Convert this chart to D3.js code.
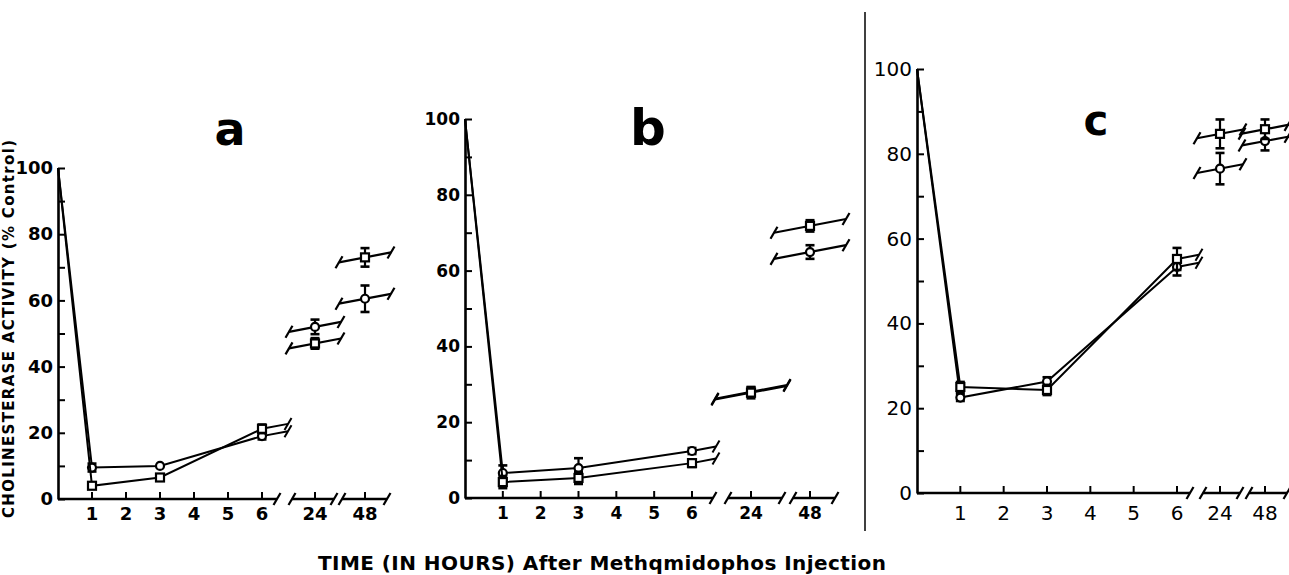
<!DOCTYPE html>
<html>
<head>
<meta charset="utf-8">
<script src="https://cdn.jsdelivr.net/npm/d3@7"></script>
<style>
  html, body { margin: 0; padding: 0; background: #fff; }
  svg { display: block; font-family: "DejaVu Sans", "Liberation Sans", sans-serif; }
</style>
</head>
<body>
<svg id="chart" width="1289" height="575"></svg>
<script>
// time points (hours): main part of the axis, then the two broken-off points
const mainHours = [0, 1, 3, 6];
const lateHours = [24, 48];
const hourTicks = [1, 2, 3, 4, 5, 6, 24, 48];
const yMinorTicks = [0, 10, 20, 30, 40, 50, 60, 70, 80, 90, 100];
const yLabelTicks = [0, 20, 40, 60, 80, 100];

// panel a  (values at 0, 1, 3, 6, 24, 48 h)
const aCircle    = [100, 9.5, 10.0, 19.0, 52.0, 60.5];
const aCircleErr = [0, 1.2, 0, 1.0, 2.2, 4.0];
const aSquare    = [100, 4.0, 6.5, 21.2, 47.0, 73.0];
const aSquareErr = [0, 0.8, 0.8, 1.3, 1.6, 2.8];

// panel b
const bCircle    = [100, 6.6, 7.9, 12.4, 28.0, 64.9];
const bCircleErr = [0, 2.0, 2.6, 0.8, 1.2, 1.8];
const bSquare    = [100, 4.2, 5.3, 9.2, 27.8, 71.8];
const bSquareErr = [0, 1.6, 1.6, 1.0, 1.5, 1.5];

// panel c
const cCircle    = [100, 22.5, 26.3, 53.3, 76.5, 83.0];
const cCircleErr = [0, 0.8, 1.0, 2.0, 3.7, 2.2];
const cSquare    = [100, 25.0, 24.3, 55.2, 84.7, 85.8];
const cSquareErr = [0, 1.2, 1.2, 2.6, 3.4, 2.3];

const panelNames = ["a", "b", "c"];

// layout of each panel on the page
const layout = {
  a: { xr: [58, 262, 315, 365], yr: [499, 168], mainEnd: 277, seg24: [292, 334], seg48: [342, 387],
       stub: 26, stub6: 26, labelSize: 18, labelWeight: "bold", xLabelDy: 21,
       letter: [230, 145], letterSize: 46,
       circle: aCircle, circleErr: aCircleErr, square: aSquare, squareErr: aSquareErr },
  b: { xr: [465, 692, 751, 810], yr: [498, 119], mainEnd: 713, seg24: [728, 782], seg48: [793, 835],
       stub: 36, stub6: 24, labelSize: 17, labelWeight: "bold", xLabelDy: 21,
       letter: [648, 145], letterSize: 50,
       circle: bCircle, circleErr: bCircleErr, square: bSquare, squareErr: bSquareErr },
  c: { xr: [917, 1177, 1220, 1265], yr: [493, 69], mainEnd: 1190, seg24: [1203, 1240], seg48: [1249, 1287],
       stub: 23, stub6: 22, labelSize: 20, labelWeight: "normal", xLabelDy: 27,
       letter: [1096, 135], letterSize: 42,
       circle: cCircle, circleErr: cCircleErr, square: cSquare, squareErr: cSquareErr }
};

const allHours = mainHours.concat(lateHours);
const slope = 0.19;   // small upward tilt of the broken line pieces

const svg = d3.select("#chart");

function slash(g, x, y, w) {
  g.append("line")
    .attr("x1", x - 3.5).attr("y1", y + 6)
    .attr("x2", x + 3.5).attr("y2", y - 6)
    .attr("stroke", "#000").attr("stroke-width", w);
}

panelNames.forEach(name => {
  const p = layout[name];
  const g = svg.append("g");

  const x = d3.scaleLinear().domain([0, 6, 24, 48]).range(p.xr);
  const y = d3.scaleLinear().domain([0, 100]).range(p.yr);

  // y axis: ticks pointing inward, labels every 20
  const yAxis = d3.axisLeft(y)
    .tickValues(yMinorTicks)
    .tickSizeInner(-7)
    .tickSizeOuter(0)
    .tickPadding(5)
    .tickFormat(d => yLabelTicks.includes(d) ? d : "");

  const ya = g.append("g")
    .attr("transform", `translate(${x(0)},0)`)
    .call(yAxis);
  ya.select(".domain").attr("stroke-width", 2.6);
  ya.selectAll(".tick line").attr("stroke-width", 2);
  ya.selectAll("text")
    .attr("font-size", p.labelSize)
    .attr("font-weight", p.labelWeight)
    .attr("font-family", "DejaVu Sans, sans-serif")
    .attr("fill", "#000");

  // x axis in three pieces with break marks
  const y0 = y(0);
  const pieces = [[x(0), p.mainEnd], p.seg24, p.seg48];
  pieces.forEach((s, i) => {
    g.append("line")
      .attr("x1", s[0]).attr("x2", s[1])
      .attr("y1", y0).attr("y2", y0)
      .attr("stroke", "#000").attr("stroke-width", 2.6);
    if (i > 0) slash(g, s[0], y0, 2.2);
    slash(g, s[1], y0, 2.2);
  });

  g.selectAll(".xtick")
    .data(hourTicks)
    .enter().append("line")
    .attr("x1", d => x(d)).attr("x2", d => x(d))
    .attr("y1", y0).attr("y2", y0 - 7)
    .attr("stroke", "#000").attr("stroke-width", 2);

  g.selectAll(".xlabel")
    .data(hourTicks)
    .enter().append("text")
    .attr("x", d => x(d))
    .attr("y", y0 + p.xLabelDy)
    .attr("text-anchor", "middle")
    .attr("font-size", p.labelSize)
    .attr("font-weight", p.labelWeight)
    .text(d => d);

  // panel letter
  g.append("text")
    .attr("x", p.letter[0]).attr("y", p.letter[1])
    .attr("text-anchor", "middle")
    .attr("font-size", p.letterSize)
    .attr("font-weight", "bold")
    .text(name);

  const series = [
    { vals: p.circle, err: p.circleErr, shape: "circle" },
    { vals: p.square, err: p.squareErr, shape: "square" }
  ];

  const line = d3.line()
    .x(d => x(d.h))
    .y(d => y(d.v));

  series.forEach(s => {
    const pts = allHours.map((h, i) => ({ h: h, v: s.vals[i], e: s.err[i] }));
    const main = pts.slice(0, mainHours.length);
    const late = pts.slice(mainHours.length);

    g.append("path")
      .datum(main)
      .attr("d", line)
      .attr("fill", "none")
      .attr("stroke", "#000")
      .attr("stroke-width", 2);

    // stub leaving the 6 h point
    const p6 = main[main.length - 1];
    const sx = x(p6.h), sy = y(p6.v);
    g.append("line")
      .attr("x1", sx).attr("y1", sy)
      .attr("x2", sx + p.stub6).attr("y2", sy - p.stub6 * slope)
      .attr("stroke", "#000").attr("stroke-width", 2);
    slash(g, sx + p.stub6, sy - p.stub6 * slope, 2);

    // broken pieces through the 24 h and 48 h points
    late.forEach(d => {
      const cx = x(d.h), cy = y(d.v);
      const x1 = cx - p.stub, y1 = cy + p.stub * slope;
      const x2 = cx + p.stub, y2 = cy - p.stub * slope;
      g.append("line")
        .attr("x1", x1).attr("y1", y1)
        .attr("x2", x2).attr("y2", y2)
        .attr("stroke", "#000").attr("stroke-width", 2.2);
      slash(g, x1, y1, 2.2);
      slash(g, x2, y2, 2.2);
    });

    // error bars
    const withErr = pts.slice(1).filter(d => d.e > 0);
    withErr.forEach(d => {
      const cx = x(d.h);
      g.append("line")
        .attr("x1", cx).attr("x2", cx)
        .attr("y1", y(d.v - d.e)).attr("y2", y(d.v + d.e))
        .attr("stroke", "#000").attr("stroke-width", 2.2);
      [d.v - d.e, d.v + d.e].forEach(v => {
        g.append("line")
          .attr("x1", cx - 4.5).attr("x2", cx + 4.5)
          .attr("y1", y(v)).attr("y2", y(v))
          .attr("stroke", "#000").attr("stroke-width", 2.6);
      });
    });

    // markers (no marker at time 0)
    const marks = pts.slice(1);
    if (s.shape === "circle") {
      g.selectAll(null)
        .data(marks)
        .enter().append("circle")
        .attr("cx", d => x(d.h))
        .attr("cy", d => y(d.v))
        .attr("r", 4)
        .attr("fill", "#fff")
        .attr("stroke", "#000")
        .attr("stroke-width", 2.2);
    } else {
      g.selectAll(null)
        .data(marks)
        .enter().append("rect")
        .attr("x", d => x(d.h) - 4)
        .attr("y", d => y(d.v) - 4)
        .attr("width", 8).attr("height", 8)
        .attr("fill", "#fff")
        .attr("stroke", "#000")
        .attr("stroke-width", 2.2);
    }
  });
});

// separator between b and c
svg.append("line")
  .attr("x1", 865).attr("x2", 865)
  .attr("y1", 12).attr("y2", 531)
  .attr("stroke", "#000").attr("stroke-width", 1.5);

// y axis title (panel a)
svg.append("text")
  .attr("transform", "translate(14,329) rotate(-90)")
  .attr("text-anchor", "middle")
  .attr("font-size", 15)
  .attr("font-weight", "bold")
  .attr("textLength", 378)
  .attr("lengthAdjust", "spacing")
  .text("CHOLINESTERASE ACTIVITY (% Control)");

// x axis title
svg.append("text")
  .attr("x", 318).attr("y", 570)
  .attr("font-size", 20)
  .attr("font-weight", "bold")
  .attr("textLength", 568)
  .attr("lengthAdjust", "spacing")
  .text("TIME (IN HOURS) After Methqmidophos Injection");
</script>
</body>
</html>
